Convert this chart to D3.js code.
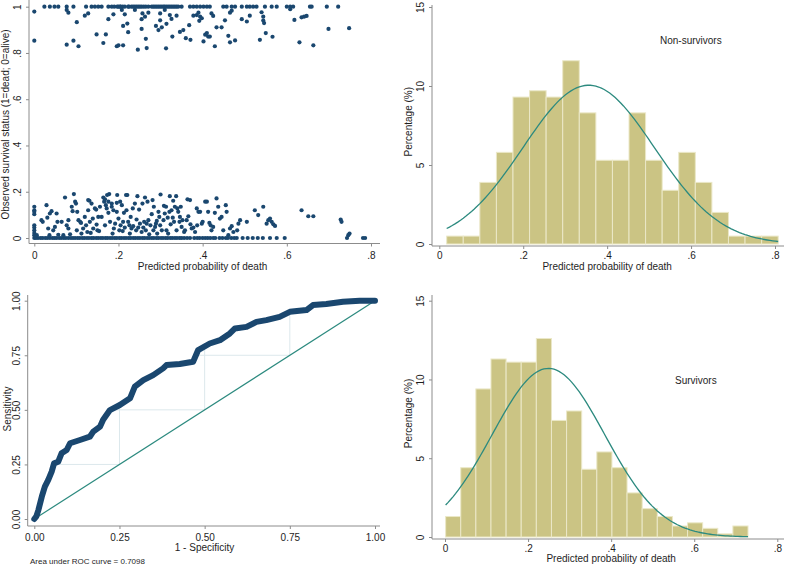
<!DOCTYPE html>
<html><head><meta charset="utf-8">
<script src="https://cdn.jsdelivr.net/npm/d3@7"></script>
<style>body{margin:0;background:#fff}svg{display:block}</style>
</head><body>
<script>
// ---------------- DATA ----------------
// Panel 1: predicted probability vs observed (jittered) status
const deadLineProb = [0.024,0.037,0.048,0.057,0.077,0.093,0.123,0.136,0.144,0.152,0.16,0.176,0.184,0.19,0.197,0.2,0.204,0.205,0.21,0.215,0.223,0.225,0.231,0.235,0.239,0.243,0.247,0.251,0.255,0.26,0.265,0.271,0.279,0.283,0.287,0.291,0.295,0.299,0.303,0.307,0.31,0.314,0.318,0.322,0.326,0.33,0.334,0.338,0.342,0.35,0.37,0.378,0.386,0.394,0.402,0.41,0.417,0.449,0.457,0.469,0.477,0.493,0.505,0.512,0.52,0.528,0.548,0.564,0.576,0.6,0.608,0.615,0.655,0.659,0.695,0.722];
const deadJitter = [[0,0.979],[0,0.853],[0.077,0.986],[0.081,0.974],[0.101,0.933],[0.077,0.836],[0.093,0.853],[0.105,0.829],[0.12,0.961],[0.128,0.971],[0.148,0.88],[0.164,0.843],[0.17,0.88],[0.176,0.946],[0.188,0.967],[0.196,0.829],[0.2,0.833],[0.208,0.986],[0.211,0.833],[0.211,0.917],[0.215,0.967],[0.221,0.927],[0.223,0.89],[0.239,0.986],[0.246,0.814],[0.255,0.946],[0.255,0.904],[0.257,0.971],[0.263,0.957],[0.265,0.861],[0.267,0.821],[0.271,0.974],[0.289,0.917],[0.295,0.899],[0.299,0.971],[0.299,0.941],[0.303,0.911],[0.31,0.986],[0.313,0.82],[0.314,0.926],[0.322,0.964],[0.326,0.947],[0.328,0.871],[0.338,0.961],[0.346,0.891],[0.354,0.899],[0.36,0.864],[0.368,0.92],[0.371,0.857],[0.378,0.961],[0.386,0.964],[0.39,0.974],[0.392,0.939],[0.394,0.957],[0.398,0.95],[0.402,0.85],[0.406,0.879],[0.41,0.886],[0.413,0.871],[0.417,0.871],[0.421,0.971],[0.425,0.96],[0.429,0.829],[0.433,0.911],[0.445,0.911],[0.453,0.941],[0.461,0.874],[0.465,0.974],[0.465,0.846],[0.469,0.983],[0.477,0.854],[0.493,0.946],[0.505,0.936],[0.512,0.961],[0.536,0.857],[0.54,0.976],[0.544,0.957],[0.544,0.94],[0.546,0.929],[0.55,0.886],[0.566,0.87],[0.608,0.989],[0.618,0.943],[0.63,0.846],[0.635,0.954],[0.641,0.957],[0.647,0.96],[0.663,0.833],[0.699,0.904],[0.748,0.907]];
const aliveLineProb = [0,0.004,0.009,0.015,0.02,0.026,0.031,0.037,0.043,0.048,0.053,0.059,0.064,0.07,0.075,0.081,0.087,0.092,0.097,0.103,0.108,0.114,0.119,0.125,0.13,0.136,0.141,0.147,0.152,0.158,0.163,0.169,0.174,0.18,0.185,0.191,0.196,0.202,0.207,0.213,0.218,0.224,0.229,0.235,0.24,0.246,0.251,0.257,0.262,0.268,0.273,0.279,0.284,0.29,0.295,0.301,0.306,0.312,0.317,0.323,0.328,0.334,0.339,0.345,0.35,0.356,0.363,0.37,0.38,0.387,0.393,0.4,0.406,0.412,0.418,0.425,0.43,0.44,0.447,0.455,0.46,0.468,0.475,0.481,0.495,0.507,0.519,0.531,0.543,0.56,0.576,0.595,0.743,0.781,0.786];
const aliveJitter = [[0,0.135],[0,0.12],[0,0.113],[0,0.103],[0,0.055],[0,0.045],[0,0.033],[0,0.022],[0,0.012],[0.006,0.012],[0.017,0.077],[0.02,0.07],[0.029,0.142],[0.031,0.088],[0.033,0.041],[0.037,0.106],[0.036,0.012],[0.041,0.116],[0.045,0.033],[0.049,0.048],[0.053,0.106],[0.055,0.07],[0.057,0.014],[0.065,0.07],[0.069,0.012],[0.073,0.175],[0.077,0.055],[0.081,0.041],[0.081,0.077],[0.085,0.016],[0.089,0.135],[0.091,0.116],[0.094,0.19],[0.097,0.157],[0.099,0.149],[0.101,0.033],[0.102,0.113],[0.105,0.077],[0.109,0.07],[0.111,0.065],[0.112,0.019],[0.116,0.041],[0.12,0.091],[0.123,0.055],[0.126,0.026],[0.128,0.164],[0.128,0.12],[0.131,0.161],[0.132,0.07],[0.134,0.022],[0.136,0.149],[0.139,0.084],[0.14,0.041],[0.144,0.128],[0.147,0.123],[0.148,0.058],[0.15,0.033],[0.152,0.091],[0.154,0.03],[0.156,0.135],[0.16,0.091],[0.164,0.175],[0.166,0.157],[0.168,0.167],[0.168,0.055],[0.17,0.142],[0.172,0.128],[0.173,0.186],[0.176,0.157],[0.176,0.109],[0.178,0.19],[0.18,0.07],[0.184,0.135],[0.184,0.149],[0.186,0.019],[0.188,0.12],[0.189,0.041],[0.192,0.062],[0.196,0.113],[0.196,0.152],[0.197,0.186],[0.2,0.084],[0.202,0.033],[0.204,0.157],[0.205,0.055],[0.208,0.142],[0.21,0.03],[0.211,0.07],[0.213,0.109],[0.215,0.045],[0.218,0.186],[0.219,0.12],[0.221,0.186],[0.223,0.07],[0.226,0.055],[0.227,0.019],[0.229,0.091],[0.231,0.041],[0.234,0.128],[0.235,0.051],[0.239,0.149],[0.242,0.033],[0.243,0.08],[0.245,0.181],[0.247,0.045],[0.249,0.123],[0.251,0.062],[0.255,0.026],[0.257,0.149],[0.259,0.045],[0.261,0.07],[0.263,0.175],[0.265,0.033],[0.267,0.062],[0.269,0.157],[0.271,0.077],[0.273,0.016],[0.276,0.055],[0.279,0.103],[0.281,0.164],[0.283,0.033],[0.284,0.135],[0.287,0.048],[0.289,0.062],[0.291,0.074],[0.292,0.019],[0.295,0.113],[0.297,0.091],[0.299,0.055],[0.3,0.188],[0.303,0.033],[0.307,0.077],[0.308,0.139],[0.31,0.106],[0.313,0.135],[0.314,0.033],[0.317,0.088],[0.318,0.019],[0.321,0.113],[0.322,0.181],[0.324,0.059],[0.326,0.12],[0.329,0.088],[0.33,0.161],[0.332,0.07],[0.334,0.135],[0.337,0.181],[0.338,0.033],[0.34,0.128],[0.342,0.113],[0.345,0.07],[0.346,0.091],[0.348,0.135],[0.35,0.048],[0.352,0.077],[0.356,0.026],[0.358,0.033],[0.362,0.077],[0.364,0.167],[0.366,0.094],[0.37,0.164],[0.371,0.059],[0.374,0.041],[0.378,0.045],[0.382,0.026],[0.386,0.128],[0.387,0.055],[0.39,0.113],[0.394,0.113],[0.398,0.062],[0.4,0.07],[0.406,0.157],[0.41,0.157],[0.413,0.113],[0.416,0.065],[0.419,0.055],[0.421,0.033],[0.425,0.048],[0.429,0.109],[0.433,0.171],[0.437,0.135],[0.441,0.084],[0.445,0.091],[0.449,0.033],[0.455,0.142],[0.457,0.113],[0.461,0.012],[0.465,0.041],[0.469,0.051],[0.473,0.026],[0.482,0.033],[0.485,0.062],[0.489,0.077],[0.505,0.07],[0.524,0.12],[0.532,0.099],[0.544,0.135],[0.552,0.062],[0.556,0.077],[0.56,0.084],[0.564,0.07],[0.568,0.059],[0.572,0.052],[0.635,0.12],[0.651,0.094],[0.663,0.094],[0.728,0.08],[0.73,0.07],[0.746,0.012],[0.749,0.019]];
const probTicks = [0,0.2,0.4,0.6,0.8];
const probTickLabels = ["0",".2",".4",".6",".8"];
const statusTicks = [0,0.2,0.4,0.6,0.8,1];
const statusTickLabels = ["0",".2",".4",".6",".8","1"];

// Panel 2: Non-survivors histogram (percent per bin)
const nonSurvStart = 0.0176, nonSurvWidth = 0.0395;
const nonSurvPct = [0.5,0.5,3.9,5.8,9.3,9.7,9.3,11.6,8.3,5.3,5.3,8.3,5.3,3.4,5.8,3.9,2.0,0.5,0.5,0.5];
const nonSurvMean = 0.356, nonSurvSD = 0.1568;

// Panel 4: Survivors histogram
const survStart = 0.0015, survWidth = 0.0364;
const survPct = [1.3,4.4,9.4,11.3,11.1,11.1,12.6,7.4,8.0,4.3,5.4,4.4,2.8,1.8,1.3,0.7,0.9,0.55,0.2,0.7];
const survMean = 0.249, survSD = 0.1357;
const pctTicks = [0,5,10,15];

// Panel 3: ROC curve
const rocFPR = [0,0.006,0.012,0.022,0.031,0.041,0.051,0.058,0.070,0.080,0.095,0.105,0.134,0.163,0.173,0.193,0.202,0.222,0.251,0.281,0.295,0.320,0.349,0.378,0.388,0.427,0.466,0.481,0.515,0.545,0.574,0.589,0.623,0.652,0.681,0.720,0.750,0.799,0.818,0.857,0.906,0.955,1];
const rocTPR = [0,0.012,0.041,0.102,0.148,0.179,0.217,0.255,0.262,0.301,0.316,0.347,0.362,0.377,0.400,0.423,0.455,0.499,0.522,0.553,0.606,0.636,0.659,0.690,0.705,0.710,0.720,0.774,0.804,0.819,0.850,0.873,0.880,0.903,0.911,0.926,0.949,0.957,0.980,0.985,0.995,1.0,1];
const rocTicks = [0,0.25,0.5,0.75,1];
const rocTickLabels = ["0.00","0.25","0.50","0.75","1.00"];
const aucText = "Area under ROC curve = 0.7098";

// ---------------- STYLE ----------------
const FONT = "'Liberation Sans', Arial, Helvetica, sans-serif";
const AXIS = "#8c8c8c", TEXT = "#1e1e1e", NAVY = "#1a476f", TEAL = "#2c8a7f";
const BAR = "#cbc484", BAR_EDGE = "#ebe8c8";

const svg = d3.select("body").append("svg").attr("width",787).attr("height",567)
  .style("font-family",FONT);

function line(x1,y1,x2,y2,color,w){
  svg.append("line").attr("x1",x1).attr("y1",y1).attr("x2",x2).attr("y2",y2)
    .attr("stroke",color||AXIS).attr("stroke-width",w||1);
}
function yAxis(scale, ticks, labels, x, top, bottom, labY){
  line(x, top, x, bottom);
  const g = svg.append("g").attr("transform",`translate(${x},0)`)
    .call(d3.axisLeft(scale).tickValues(ticks).tickFormat((d,i)=>labels[i]).tickSize(3).tickSizeOuter(0));
  g.select(".domain").remove();
  g.selectAll("line").attr("stroke",AXIS);
  g.selectAll("text").attr("transform","rotate(-90)").attr("x",0).attr("y",labY).attr("dy",0)
    .attr("text-anchor","middle").attr("fill",TEXT).attr("font-size",10).attr("font-family",FONT);
  g.attr("font-family",null).attr("font-size",null);
}
function xAxis(scale, ticks, labels, y, left, right, labY){
  line(left, y, right, y);
  const g = svg.append("g").attr("transform",`translate(0,${y})`)
    .call(d3.axisBottom(scale).tickValues(ticks).tickFormat((d,i)=>labels[i]).tickSize(3).tickSizeOuter(0));
  g.select(".domain").remove();
  g.selectAll("line").attr("stroke",AXIS);
  g.selectAll("text").attr("y",labY).attr("dy",0).attr("fill",TEXT).attr("font-size",10).attr("font-family",FONT);
  g.attr("font-family",null).attr("font-size",null);
}
function text(x,y,s,opts){
  const t = svg.append("text").attr("x",x).attr("y",y).text(s).attr("fill",TEXT)
    .attr("font-size",(opts&&opts.size)||10);
  if(opts&&opts.anchor) t.attr("text-anchor",opts.anchor);
  if(opts&&opts.rotate) t.attr("transform",`rotate(-90,${x},${y})`);
  return t;
}

// ---------------- PANEL 1: scatter ----------------
{
  const x = d3.scaleLinear().domain([0,0.8]).range([34.3,371]);
  const y = d3.scaleLinear().domain([0,1]).range([238,6.7]);
  yAxis(y, statusTicks, statusTickLabels, 29, 0, 243.5, -8.5);
  xAxis(x, probTicks, probTickLabels, 243.5, 29, 380, 15.5);
  text(202.5, 269.5, "Predicted probability of death", {anchor:"middle"});
  text(9, 124.5, "Observed survival status (1=dead; 0=alive)", {anchor:"middle", rotate:true});
  const pts = [];
  deadLineProb.forEach(p=>pts.push([p,1]));
  deadJitter.forEach(d=>pts.push(d));
  aliveLineProb.forEach(p=>pts.push([p,0]));
  aliveJitter.forEach(d=>pts.push(d));
  svg.append("g").selectAll("circle").data(pts).join("circle")
    .attr("cx",d=>x(d[0])).attr("cy",d=>y(d[1])).attr("r",2.1).attr("fill",NAVY);
}

// ---------------- histogram helper ----------------
function histPanel(pct, start, width, mean, sd, xr, yr, axisY, yTop, xLabY, titleY, yTitleCY, label, labelPos){
  const x = d3.scaleLinear().domain([0,0.8]).range(xr);
  const y = d3.scaleLinear().domain([0,15]).range(yr);
  yAxis(y, pctTicks, pctTicks.map(String), 432, yTop, axisY, -8.5);
  xAxis(x, probTicks, probTickLabels, axisY, 432, 784, xLabY);
  svg.append("g").selectAll("rect").data(pct).join("rect")
    .attr("x",(d,i)=>x(start+i*width)).attr("width",(d,i)=>x(start+(i+1)*width)-x(start+i*width))
    .attr("y",d=>y(d)).attr("height",d=>y(0)-y(d))
    .attr("fill",BAR).attr("stroke",BAR_EDGE).attr("stroke-width",1);
  const lo = start, hi = start+pct.length*width;
  const curve = d3.range(0,121).map(i=>{
    const v = lo + (hi-lo)*i/120;
    const z = (v-mean)/sd;
    return [v, width*100*Math.exp(-0.5*z*z)/(sd*Math.sqrt(2*Math.PI))];
  });
  svg.append("path").datum(curve)
    .attr("d", d3.line().x(d=>x(d[0])).y(d=>y(d[1])))
    .attr("fill","none").attr("stroke",TEAL).attr("stroke-width",1.3);
  text((xr[0]+xr[1])/2, titleY, "Predicted probability of death", {anchor:"middle"});
  text(412, yTitleCY, "Percentage (%)", {anchor:"middle", rotate:true});
  text(labelPos[0], labelPos[1], label);
}
histPanel(nonSurvPct, nonSurvStart, nonSurvWidth, nonSurvMean, nonSurvSD,
  [439.3,775], [244,7], 246, 5, 12.5, 269.5, 121.7, "Non-survivors", [660,44]);
histPanel(survPct, survStart, survWidth, survMean, survSD,
  [445,777.3], [537,300.7], 539, 295, 12.5, 562, 413.5, "Survivors", [675,384]);

// ---------------- PANEL 3: ROC ----------------
{
  const x = d3.scaleLinear().domain([0,1]).range([34.3,375]);
  const y = d3.scaleLinear().domain([0,1]).range([519,300.7]);
  const roc = rocFPR.map((f,i)=>[f, rocTPR[i]]);
  // grid lines shown only between ROC curve and diagonal
  svg.append("clipPath").attr("id","rocclip").append("path")
    .attr("d", d3.line().x(d=>x(d[0])).y(d=>y(d[1]))(roc)+"Z");
  const gg = svg.append("g").attr("clip-path","url(#rocclip)");
  [0.25,0.5,0.75].forEach(v=>{
    gg.append("line").attr("x1",x(v)).attr("x2",x(v)).attr("y1",y(0)).attr("y2",y(1)).attr("stroke","#dce8ec").attr("stroke-width",1);
    gg.append("line").attr("y1",y(v)).attr("y2",y(v)).attr("x1",x(0)).attr("x2",x(1)).attr("stroke","#dce8ec").attr("stroke-width",1);
  });
  yAxis(y, rocTicks, rocTickLabels, 27.7, 295, 526, -7.5);
  xAxis(x, rocTicks, rocTickLabels, 526, 27.7, 380, 14.5);
  svg.append("line").attr("x1",x(0)).attr("y1",y(0)).attr("x2",x(1)).attr("y2",y(1))
    .attr("stroke",TEAL).attr("stroke-width",1.2);
  svg.append("path").datum(roc)
    .attr("d", d3.line().x(d=>x(d[0])).y(d=>y(d[1])))
    .attr("fill","none").attr("stroke",NAVY).attr("stroke-width",6)
    .attr("stroke-linejoin","round").attr("stroke-linecap","round");
  text(204.5, 551, "1 - Specificity", {anchor:"middle"});
  text(10.5, 409, "Sensitivity", {anchor:"middle", rotate:true});
  text(30, 563.5, aucText, {size:8});
}
</script>
</body></html>
